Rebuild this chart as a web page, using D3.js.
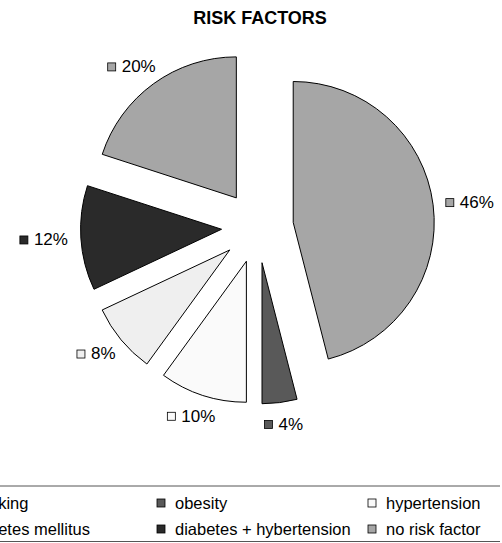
<!DOCTYPE html>
<html>
<head>
<meta charset="utf-8">
<script src="https://cdn.jsdelivr.net/npm/d3@7"></script>
<style>
  body { margin: 0; background: #fff; }
  svg { display: block; font-family: "Liberation Sans", Arial, sans-serif; }
</style>
</head>
<body>
<div class="pie_chart"></div>
<script>
// legend order
var categories = ["smoking", "obesity", "hypertension", "diabetes mellitus", "diabetes + hybertension", "no risk factor"];
var values = [20, 4, 10, 8, 12, 46];
var colors = ["#a6a6a6", "#595959", "#fafafa", "#efefef", "#2a2a2a", "#a6a6a6"];
// clockwise order of the slices, starting at 12 o'clock
var sliceOrder = ["no risk factor", "obesity", "hypertension", "diabetes mellitus", "diabetes + hybertension", "smoking"];

var width = 502, height = 543;
var cx = 257.5, cy = 227, radius = 141, explode = 36;

var svg = d3.select(".pie_chart")
  .append("svg")
  .attr("width", width)
  .attr("height", height);

svg.append("text")
  .attr("x", 260)
  .attr("y", 24)
  .attr("text-anchor", "middle")
  .style("font-size", "18px")
  .style("font-weight", "bold")
  .text("RISK FACTORS");

var data = categories.map(function (c, i) {
  return { name: c, value: values[i], color: colors[i] };
});

var pie = d3.pie()
  .value(function (d) { return d.value; })
  .sort(function (a, b) { return sliceOrder.indexOf(a.name) - sliceOrder.indexOf(b.name); });

var arc = d3.arc().innerRadius(0).outerRadius(radius);

var g = svg.append("g").attr("transform", "translate(" + cx + "," + cy + ")");

var slices = g.selectAll("g.slice")
  .data(pie(data))
  .enter()
  .append("g")
  .attr("class", "slice")
  .attr("transform", function (d) {
    var a = (d.startAngle + d.endAngle) / 2;
    return "translate(" + (Math.sin(a) * explode) + "," + (-Math.cos(a) * explode) + ")";
  });

slices.append("path")
  .attr("d", arc)
  .style("fill", function (d) { return d.data.color; })
  .style("stroke", "#000")
  .style("stroke-width", 1);

// percentage labels: box pushed out so its near edge sits just past the arc
var labelGap = 13, sw = 8, labelH = 17;
slices.each(function (d) {
  var a = (d.startAngle + d.endAngle) / 2;
  var dx = Math.sin(a), dy = -Math.cos(a);
  var lg = d3.select(this).append("g");
  var t = lg.append("text")
    .attr("dy", "0.35em")
    .style("font-size", "17px")
    .text(d.data.value + "%");
  var w = t.node().getComputedTextLength() + sw + 6;
  var px = dx * (radius + labelGap) + dx * w / 2;
  var py = dy * (radius + labelGap) + dy * labelH / 2;
  lg.attr("transform", "translate(" + px + "," + py + ")");
  t.attr("x", -w / 2 + sw + 6);
  lg.append("rect")
    .attr("x", -w / 2)
    .attr("y", -sw / 2 + 0.5)
    .attr("width", sw)
    .attr("height", sw)
    .style("fill", d.data.color)
    .style("stroke", "#000")
    .style("stroke-width", 0.8);
});

// legend
var legendTop = 486, legendBottom = 541.5, legendRight = 500;
var legend = svg.append("g");
legend.append("line")
  .attr("x1", -10).attr("x2", legendRight)
  .attr("y1", legendTop).attr("y2", legendTop)
  .style("stroke", "#555").style("stroke-width", 1);
legend.append("line")
  .attr("x1", -10).attr("x2", legendRight)
  .attr("y1", legendBottom).attr("y2", legendBottom)
  .style("stroke", "#555").style("stroke-width", 1);

var colX = [-51, 157, 368];
var rowY = [503, 529];

var items = legend.selectAll("g.item")
  .data(data)
  .enter()
  .append("g")
  .attr("class", "item")
  .attr("transform", function (d, i) {
    return "translate(" + colX[i % 3] + "," + rowY[Math.floor(i / 3)] + ")";
  });

items.append("rect")
  .attr("x", 0)
  .attr("y", -sw / 2)
  .attr("width", sw)
  .attr("height", sw)
  .style("fill", function (d) { return d.color; })
  .style("stroke", "#000")
  .style("stroke-width", 0.8);

items.append("text")
  .attr("x", sw + 10)
  .attr("dy", "0.35em")
  .style("font-size", "16.5px")
  .text(function (d) { return d.name; });
</script>
</body>
</html>
